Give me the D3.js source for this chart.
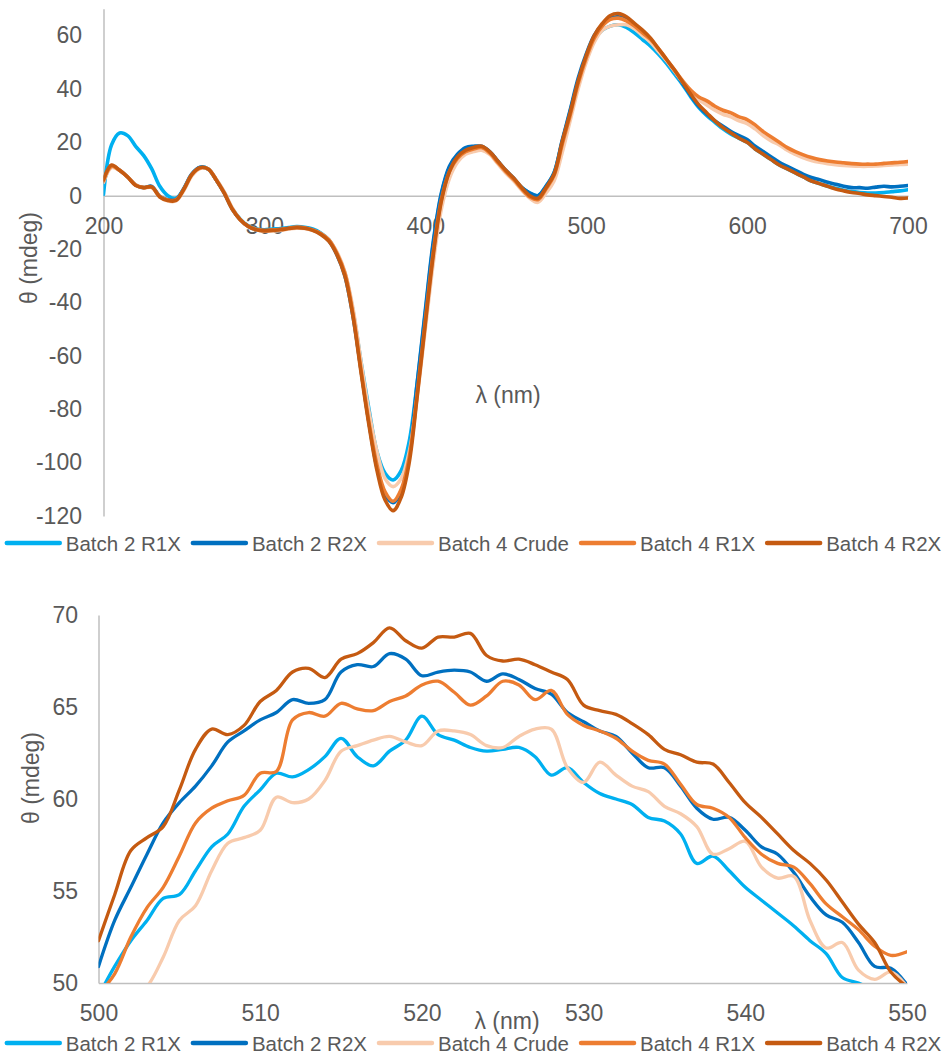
<!DOCTYPE html>
<html><head><meta charset="utf-8">
<script src="https://cdn.jsdelivr.net/npm/d3@7/dist/d3.min.js"></script>
<style>
body{margin:0;background:#fff}
svg text{font-family:"Liberation Sans",Arial,sans-serif;fill:#595959}
</style>
</head><body>
<svg id="chart" width="945" height="1057"></svg>
<script>
// ---------- DATA ----------
const seriesNames = ["Batch 2 R1X", "Batch 2 R2X", "Batch 4 Crude", "Batch 4 R1X", "Batch 4 R2X"];
const seriesColors = ["#00B0F0", "#0070C0", "#F8CBAD", "#ED7D31", "#C55A11"];

const wavelengthsTop = [200,205,210,215,220,225,230,235,240,245,250,255,260,265,270,275,280,285,290,295,
300,305,310,315,320,325,330,335,340,345,350,355,360,365,370,375,380,385,390,395,
400,405,410,415,420,425,430,435,440,445,450,455,460,465,470,475,480,485,490,495,
500,505,510,515,520,525,530,535,540,545,550,555,560,565,570,575,580,585,590,595,
600,605,610,615,620,625,630,635,640,645,650,655,660,665,670,675,680,685,690,695,700];

const b2r1Top = [0.5,19,23.5,22.5,18.5,15,10,3.5,0,-1,
2.5,8,10.6,10,6,1.2,-4.8,-8.8,-11.3,-12.5,
-12.8,-12.5,-12.3,-11.9,-11.6,-11.8,-12.5,-14,-16.5,-21.5,
-29,-43,-62,-80,-96,-104,-106.5,-103,-92,-70,
-44,-18,0.5,10.5,15,17.5,18,18,16,12.5,
9,6,3,1,0,3.5,8.5,20,31.5,43,
52,58.5,62,63.5,64,63,61,58.5,56,53,
49.5,45.5,41.5,37,33,30,27.5,25,23,21.5,
20,17.5,15.5,13.5,11.5,10,8.5,7,5.5,4.5,
3.5,2.8,2,1.5,1.2,1,1,1.2,1.5,1.8,2.2];

const b2r2Top = [5,11,9.5,7,4,3,3.5,-0.3,-1.5,-1.5,
2.8,8.2,10.6,10,6,1,-5,-9,-11.5,-12.8,
-13,-12.8,-12.6,-12.2,-11.9,-12.1,-12.8,-14.3,-16.8,-22,
-30,-45,-65,-85,-102,-112,-115,-111,-97,-70,
-43,-17,1,11,15.5,18,18.5,18.5,16.5,13,
9.5,6.5,3,1,0,3.5,8.5,20.5,32,44,
53,60,64,66.5,67,66,63.5,61,58,54.5,
50.5,46.5,42,37.5,33.5,30.5,28,26,24,22.5,
21,18.5,16.5,14.5,12.5,11,9.5,8,6.8,6,
5,4.3,3.5,3,3,2.8,3.2,3.5,3.3,3.5,3.8];

const b4cTop = [5,10.5,9.5,7,4,3,3,-0.5,-2,-2,
2,7.5,10.2,10,6.2,1.5,-4.5,-9,-11.5,-12.8,
-13.3,-13.2,-13,-12.5,-12.2,-12.3,-13,-14.2,-16.5,-21,
-28.5,-42,-62,-81,-96,-106,-109,-106,-96,-75,
-50,-25,-5,6.5,12.5,15.5,16.5,17,15.5,12,
8.5,5.5,2,-1,-2.5,1,5.5,16,28,40,
50,57.5,62,63.5,64,64,62.5,60,57.5,54,
50.5,46.5,42.5,39,36,34,32,30.5,29.5,28,
27,25,22.5,20.5,19,17,15.5,14.2,13.2,12.5,
12,11.6,11.3,11.1,11,11,11.1,11.3,11.5,11.7,11.8];

const b4r1Top = [5.5,11,9.5,7,4,3,3.2,-0.3,-1.6,-1.6,
2.5,8,10.4,10,6,1,-5,-9,-11.5,-12.6,
-13,-12.8,-12.6,-12.2,-11.8,-12,-12.8,-14.2,-16.5,-21.5,
-29,-44,-65,-85,-101,-111,-114.5,-110,-98,-74,
-47,-21,-1.5,9,14,16.5,17.5,18,16,12.5,
9,6,2.5,-0.5,-1.5,2.5,7.5,19,30,42,
51.5,59,63.5,66,66.5,65.5,63.5,61,58.5,55,
51,47,43,39.5,37,35.5,33.5,32,31,29.5,
28.5,26.5,24,22,20,18,16.5,15.3,14.3,13.5,
13,12.6,12.3,12,11.8,11.8,11.8,12.1,12.3,12.5,12.8];

const b4r2Top = [6,11.5,9.5,7,3.8,3,3.3,-0.5,-1.8,-1.8,
2.5,8,10.5,10,6,1,-5,-9,-11.5,-12.8,
-13.2,-13,-12.8,-12.3,-12,-12.2,-13,-14.5,-17,-22,
-30,-45,-66,-86,-103,-114,-118,-113,-100,-75,
-48,-22,-2,9,14.5,17,18,18.5,16.5,13,
9.5,6.5,3,0,-1,3,8,20,31,43,
52.5,60,64.5,67.5,68.2,67,64.5,62,59,55,
51,47,42.5,38,34,31,28,25.5,23.5,21.5,
20,17.5,15.5,13.5,11.5,10,8.5,7,5.5,4.5,
3.5,2.5,1.8,1.2,0.8,0.3,0,-0.3,-0.6,-1,-0.9];

const wavelengthsZoom = [500,501,502,503,504,505,506,507,508,509,510,511,512,513,514,515,516,517,518,519,
520,521,522,523,524,525,526,527,528,529,530,531,532,533,534,535,536,537,538,539,
540,541,542,543,544,545,546,547,548,549,550];

const b2r1Zoom = [49.3,50.9,52.3,53.4,54.6,54.8,56.1,57.4,58.1,59.6,60.5,61.4,61.2,61.6,62.3,63.3,62.3,61.8,62.6,63.2,
64.5,63.5,63.2,62.8,62.6,62.7,62.8,62.3,61.3,61.7,60.9,60.3,60.0,59.7,59.0,58.8,58.1,56.5,56.9,56.1,
55.2,54.5,53.8,53.1,52.3,51.6,50.3,50.0,49.6,49.3,49.0];

const b2r2Zoom = [50.9,53.4,55.2,57.0,58.7,59.8,60.7,61.8,63.1,63.7,64.3,64.7,65.4,65.2,65.4,66.9,67.3,67.2,67.9,67.6,
66.7,66.9,67.0,66.9,66.4,66.8,66.5,66.0,65.7,64.7,64.2,63.7,63.4,62.5,61.7,61.7,60.7,59.5,58.9,59.0,
58.3,57.4,57.0,56.0,54.7,53.7,53.3,52.2,50.9,50.8,49.9];

const b4cZoom = [47.5,48.3,49.1,49.8,51.4,53.4,54.2,56.1,57.6,57.9,58.3,60.1,59.8,60.0,61.0,62.6,62.9,63.2,63.4,63.1,
62.9,63.7,63.7,63.5,62.9,62.8,63.4,63.8,63.8,61.7,60.9,62.0,61.3,60.7,60.4,59.6,59.2,58.5,57.0,57.3,
57.7,56.3,55.7,55.8,53.4,51.9,52.2,50.7,50.2,50.6,49.8];

const b4r1Zoom = [49.4,50.5,52.5,54.1,55.2,56.9,58.7,59.5,59.9,60.2,61.4,61.5,64.3,64.7,64.5,65.2,64.9,64.8,65.3,65.6,
66.2,66.4,65.8,65.1,65.6,66.4,66.2,65.4,65.9,64.6,64.0,63.7,63.3,62.6,62.1,61.9,60.8,59.7,59.5,59.0,
57.9,57.0,56.5,56.3,55.4,54.3,53.6,52.9,52.0,51.5,51.7];

const b4r2Zoom = [52.3,54.8,57.2,57.9,58.5,60.5,62.7,63.8,63.5,64.0,65.3,65.9,66.9,67.1,66.6,67.6,67.9,68.5,69.3,68.6,
68.2,68.8,68.8,69.0,67.8,67.5,67.6,67.3,66.9,66.5,65.1,64.8,64.6,64.1,63.5,62.7,62.4,62.0,61.9,60.9,
59.8,59.0,58.1,57.2,56.5,55.6,54.4,53.2,52.2,50.6,49.8];

const topXTicks = [200,300,400,500,600,700];
const topYTicks = [-120,-100,-80,-60,-40,-20,0,20,40,60];
const zoomXTicks = [500,510,520,530,540,550];
const zoomYTicks = [50,55,60,65,70];

const axisTitleX = "λ (nm)";
const axisTitleY = "θ (mdeg)";

// ---------- DRAW ----------
const svg = d3.select("#chart");
const AXIS_COLOR = "#BFBFBF";
const TICK_FONT = 23;
const fmt = d => String(d);   // plain hyphen-minus like the original

function drawChart(o) {
  const g = svg.append("g");
  const x = d3.scaleLinear().domain(o.xDomain).range(o.xRange);
  const y = d3.scaleLinear().domain(o.yDomain).range(o.yRange);

  const clipId = "clip" + o.id;
  g.append("clipPath").attr("id", clipId).append("rect")
    .attr("x", o.xRange[0]).attr("y", o.yRange[1])
    .attr("width", o.xRange[1] - o.xRange[0]).attr("height", o.yRange[0] - o.yRange[1]);

  const yAxis = g.append("g").attr("transform", `translate(${o.xRange[0]},0)`)
    .call(d3.axisLeft(y).tickValues(o.yTicks).tickSize(0).tickPadding(o.yPad).tickFormat(fmt));
  yAxis.select(".domain").attr("stroke", AXIS_COLOR).attr("stroke-width", 1.5);
  yAxis.selectAll("text").attr("font-size", TICK_FONT).attr("fill", "#595959").attr("font-family", null);

  const xAxis = g.append("g").attr("transform", `translate(0,${y(o.xAxisAt)})`)
    .call(d3.axisBottom(x).tickValues(o.xTicks).tickSize(0).tickPadding(o.xPad).tickFormat(fmt));
  xAxis.select(".domain").attr("stroke", AXIS_COLOR).attr("stroke-width", 1.5);
  xAxis.selectAll("text").attr("font-size", TICK_FONT).attr("fill", "#595959").attr("font-family", null);

  const line = d3.line().x(d => x(d[0])).y(d => y(d[1])).curve(d3.curveCatmullRom.alpha(0.5));
  const lg = g.append("g").attr("clip-path", `url(#${clipId})`);
  o.series.forEach((s, i) => {
    const pts = o.xs.map((xv, j) => [xv, s[j]]);
    lg.append("path").attr("d", line(pts)).attr("fill", "none")
      .attr("stroke", seriesColors[i]).attr("stroke-width", o.lineWidth)
      .attr("stroke-linejoin", "round").attr("stroke-linecap", "round");
  });

  g.append("text").attr("x", o.xTitlePos[0]).attr("y", o.xTitlePos[1])
    .attr("text-anchor", "middle").attr("dominant-baseline", "central")
    .attr("font-size", 23).text(axisTitleX);
  g.append("text").attr("transform", `translate(${o.yTitlePos[0]},${o.yTitlePos[1]}) rotate(-90)`)
    .attr("text-anchor", "middle").attr("dominant-baseline", "central")
    .attr("font-size", 23).text(axisTitleY);

  const leg = g.append("g").attr("transform", `translate(0,${o.legendY})`);
  const items = [];
  seriesNames.forEach((n, i) => {
    const it = leg.append("g");
    it.append("line").attr("x1", 0).attr("x2", 53).attr("y1", 0).attr("y2", 0)
      .attr("stroke", seriesColors[i]).attr("stroke-width", 4.5).attr("stroke-linecap", "round");
    const t = it.append("text").attr("x", 59).attr("y", 0).attr("dominant-baseline", "central")
      .attr("font-size", 20.5).text(n);
    items.push({g: it, w: 59 + t.node().getComputedTextLength()});
  });
  const gap = 12;
  const total = d3.sum(items, d => d.w) + gap * (items.length - 1);
  let cx = o.legendCenter - total / 2;
  items.forEach(d => { d.g.attr("transform", `translate(${cx},0)`); cx += d.w + gap; });
}

drawChart({
  id: "top",
  xDomain: [200, 700], xRange: [103.5, 908],
  yDomain: [-120, 70], yRange: [516, 8.8],
  xTicks: topXTicks, yTicks: topYTicks, xAxisAt: 0,
  xPad: 22, yPad: 21.5,
  xs: wavelengthsTop,
  series: [b2r1Top, b2r2Top, b4cTop, b4r1Top, b4r2Top],
  lineWidth: 3.6,
  xTitlePos: [508, 395], yTitlePos: [29, 258],
  legendY: 543, legendCenter: 474
});

drawChart({
  id: "zoom",
  xDomain: [500, 550], xRange: [98.5, 907],
  yDomain: [50, 70], yRange: [983, 615],
  xTicks: zoomXTicks, yTicks: zoomYTicks, xAxisAt: 50,
  xPad: 22, yPad: 20.5,
  xs: wavelengthsZoom,
  series: [b2r1Zoom, b2r2Zoom, b4cZoom, b4r1Zoom, b4r2Zoom],
  lineWidth: 3.3,
  xTitlePos: [507, 1021], yTitlePos: [31, 778],
  legendY: 1043, legendCenter: 474
});
</script>
</body></html>
